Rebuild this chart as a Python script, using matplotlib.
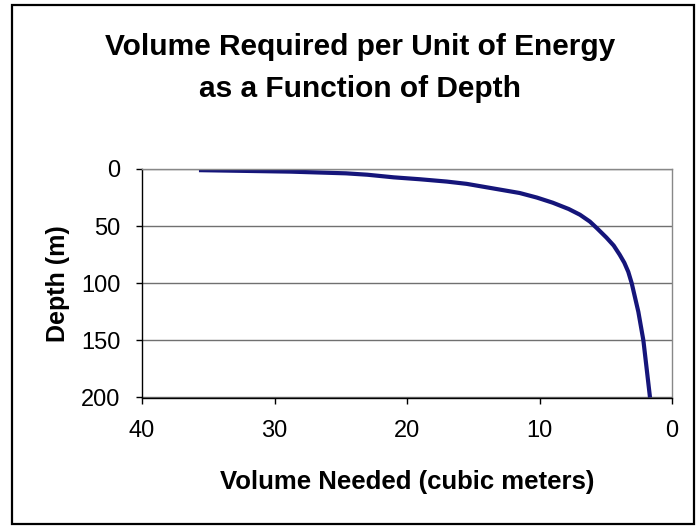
import matplotlib
matplotlib.use("Agg")
import matplotlib.pyplot as plt
from matplotlib.patches import Rectangle

# Data
depth_m = [1, 2.3, 3.8, 5, 7.3, 9, 11, 13, 16, 21, 25, 29.5, 35, 40, 46, 52,
           60, 67, 75, 82, 90, 100, 125, 150, 175, 200]
volume_m3 = [35.7, 28.8, 24.6, 23.0, 21.0, 19.0, 17.0, 15.5, 14.0, 11.5, 10.2,
             9.0, 7.8, 6.95, 6.2, 5.65, 4.95, 4.4, 3.95, 3.6, 3.3, 3.04, 2.54,
             2.16, 1.91, 1.66]
x_ticks = [40, 30, 20, 10, 0]
y_ticks = [0, 50, 100, 150, 200]

plt.rcParams['font.family'] = ['Liberation Sans', 'DejaVu Sans']

W, H = 698, 529
fig = plt.figure(figsize=(W / 100, H / 100), dpi=100)
fig.patch.set_facecolor('white')
fig.patches.append(Rectangle((12 / W, 5 / H), 682 / W, 519 / H, transform=fig.transFigure,
                             fill=False, edgecolor='black', linewidth=1.6))

ax = fig.add_axes([142 / W, 1 - 397.5 / H, 530 / W, 228.5 / H])
ax.plot(volume_m3, depth_m, color='#15157a', linewidth=3, solid_capstyle='butt',
        solid_joinstyle='round')
ax.set_xlim(40, 0)
ax.set_ylim(200, 0)
ax.set_xticks(x_ticks)
ax.set_yticks(y_ticks)
ax.tick_params(axis='both', labelsize=17, length=4.3, width=1, direction='out')
ax.tick_params(axis='y', pad=11)
ax.tick_params(axis='x', pad=12)
ax.yaxis.grid(True, color='#707070', linewidth=1)
ax.set_axisbelow(True)
for s in ['top', 'right']:
    ax.spines[s].set_color('#888888')
    ax.spines[s].set_linewidth(1)
for s in ['left', 'bottom']:
    ax.spines[s].set_color('black')
    ax.spines[s].set_linewidth(1)

fig.text(407 / W, 1 - 489 / H, 'Volume Needed (cubic meters)', ha='center', va='baseline',
         fontsize=18.5, fontweight='bold')
fig.text(58 / W, 1 - 284 / H, 'Depth (m)', ha='center', va='center', rotation=90,
         fontsize=18, fontweight='bold')

fig.text(360 / W, 1 - 55 / H, 'Volume Required per Unit of Energy',
         ha='center', va='baseline', fontsize=21.5, fontweight='bold')
fig.text(360 / W, 1 - 97 / H, 'as a Function of Depth',
         ha='center', va='baseline', fontsize=21.5, fontweight='bold')

fig.savefig('out.png', dpi=100)
